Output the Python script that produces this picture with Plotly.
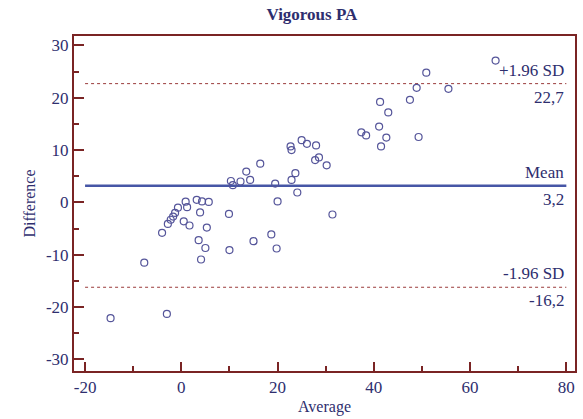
import plotly.graph_objects as go

avg = [-14.7, -3.0, -7.7, -4.0, -2.8, -2.2, -1.7, -1.3, -0.7, 0.9, 1.2, 0.5, 1.7,
       3.2, 4.3, 5.7, 3.9, 5.3, 3.6, 5.0, 4.1, 9.9, 10.0, 15.0, 18.7, 19.8, 20.0,
       24.1, 19.5, 10.3, 10.7, 12.3, 13.5, 14.3, 16.4, 22.7, 22.9, 25.0, 26.1, 28.0,
       27.8, 28.6, 30.2, 22.9, 23.7, 31.4,
       65.3, 50.9, 48.9, 55.5, 47.5, 41.3, 43.0, 41.1, 37.4, 38.4, 42.6, 41.5, 49.3]
diff = [-22.1, -21.3, -11.5, -5.8, -4.1, -3.3, -2.7, -2.0, -1.0, 0.15, -0.9, -3.6, -4.4,
        0.5, 0.2, 0.1, -1.9, -4.8, -7.2, -8.7, -10.9, -2.2, -9.1, -7.4, -6.1, -8.8, 0.2,
        1.9, 3.6, 4.1, 3.3, 4.0, 5.9, 4.3, 7.4, 10.7, 10.0, 11.9, 11.2, 10.9,
        8.1, 8.6, 7.1, 4.3, 5.6, -2.3,
        27.1, 24.8, 21.9, 21.7, 19.6, 19.2, 17.2, 14.5, 13.4, 12.8, 12.4, 10.7, 12.5]

mean_val = 3.2
upper_val = 22.7
lower_val = -16.2
line_x = [-20, 80]
x_ticks = [-20, 0, 20, 40, 60, 80]
x_ticktext = ["-20", "0", "20", "40", "60", "80"]
y_ticks = [-30, -20, -10, 0, 10, 20, 30]
y_ticktext = ["-30", "-20", "-10", "0", "10", "20", "30"]

AXC = "#7a2424"
TXT = "#2e2e6e"
FONT = "Liberation Serif"

fig = go.Figure()
fig.add_trace(go.Scatter(x=line_x, y=[upper_val, upper_val], mode="lines",
                         line=dict(color="#9a3a3a", width=1, dash="dot"), hoverinfo="skip"))
fig.add_trace(go.Scatter(x=line_x, y=[lower_val, lower_val], mode="lines",
                         line=dict(color="#9a3a3a", width=1, dash="dot"), hoverinfo="skip"))
fig.add_trace(go.Scatter(x=line_x, y=[mean_val, mean_val], mode="lines",
                         line=dict(color="#4656a6", width=2.5), hoverinfo="skip"))
fig.add_trace(go.Scatter(x=avg, y=diff, mode="markers",
                         marker=dict(symbol="circle-open", size=7, color="#55559a",
                                     line=dict(width=1.2))))

labels = [("+1.96 SD", upper_val, "bottom"), (str(upper_val).replace(".", ","), upper_val, "top"),
          ("Mean", mean_val, "bottom"), (str(mean_val).replace(".", ","), mean_val, "top"),
          ("-1.96 SD", lower_val, "bottom"), (str(lower_val).replace(".", ","), lower_val, "top")]
for txt, yv, anc in labels:
    fig.add_annotation(x=80, y=yv, text=txt, showarrow=False, xanchor="right",
                       yanchor=anc, yshift=2 if anc == "bottom" else -2,
                       font=dict(family=FONT, size=17, color=TXT))

fig.update_layout(
    width=583, height=419,
    margin=dict(l=74, r=6, t=36, b=46),
    paper_bgcolor="white", plot_bgcolor="white",
    showlegend=False,
    title=dict(text="<b>Vigorous PA</b>", x=0.535, xanchor="center", y=0.967, yanchor="middle",
               font=dict(family=FONT, size=17, color=TXT)),
    font=dict(family=FONT, color=TXT),
)
fig.update_xaxes(range=[-22.3, 81.8], tickvals=x_ticks, ticktext=x_ticktext, showgrid=False, zeroline=False,
                 showline=True, linecolor=AXC, linewidth=2, mirror=True,
                 ticks="inside", ticklen=9, tickwidth=2, tickcolor=AXC,
                 minor=dict(dtick=10, tick0=0, ticks="inside", ticklen=5, tickwidth=1.5, tickcolor=AXC),
                 tickfont=dict(family=FONT, size=17, color=TXT),
                 title=dict(text="Average", font=dict(family=FONT, size=16, color=TXT), standoff=4))
fig.update_yaxes(range=[-32.2, 31.8], tickvals=y_ticks, ticktext=y_ticktext, showgrid=False, zeroline=False,
                 showline=True, linecolor=AXC, linewidth=2, mirror=True,
                 ticks="inside", ticklen=10, tickwidth=2, tickcolor=AXC,
                 minor=dict(dtick=5, tick0=0, ticks="inside", ticklen=5, tickwidth=1.5, tickcolor=AXC),
                 tickfont=dict(family=FONT, size=17, color=TXT),
                 title=dict(text="Difference", font=dict(family=FONT, size=16, color=TXT), standoff=6))

fig.write_html("out.html")
